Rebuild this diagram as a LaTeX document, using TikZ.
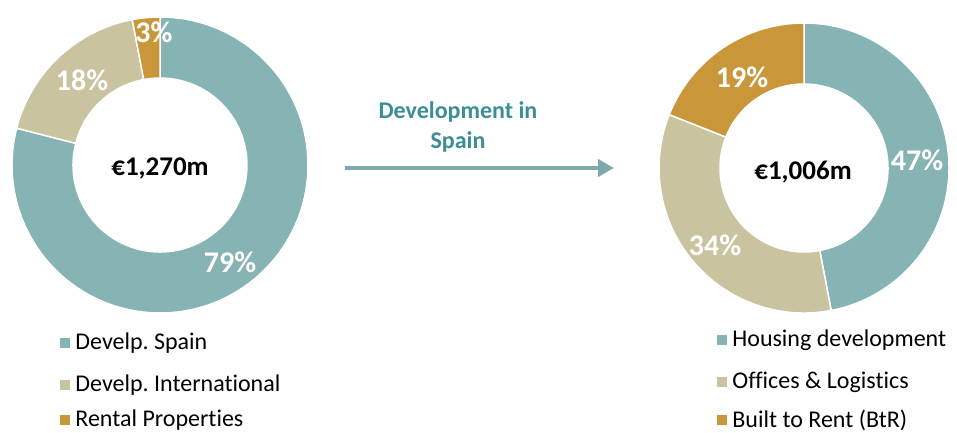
\documentclass[tikz,border=0pt]{standalone}
\usepackage{fontspec}
\setmainfont{Carlito}[Ligatures=NoCommon]
\frenchspacing
\usetikzlibrary{arrows.meta,positioning}
\definecolor{spain}{HTML}{86B3B3}
\definecolor{intl}{HTML}{C9C3A0}
\definecolor{rental}{HTML}{C9963A}
\definecolor{arrowtext}{HTML}{3B8E96}
\tikzset{
  pct/.style={text=white, font=\bfseries\fontsize{30}{30}\selectfont},
  total/.style={font=\bfseries\fontsize{27}{27}\selectfont},
  legbox/.style={minimum size=10pt, inner sep=0pt},
  legtext/.style={font=\fontsize{24}{24}\selectfont, inner sep=0pt, anchor=west},
  slice/.style={draw=white, line width=1.5pt}
}
\begin{document}
\begin{tikzpicture}[x=1pt,y=1pt]
  \useasboundingbox (0,0) rectangle (957,432);
  % left donut
  \coordinate (lc) at (160,267);
  \fill[spain,slice] (lc) ++(90:148) arc[start angle=90,end angle=-194.4,radius=148]
    -- ++(-194.4:-61) arc[start angle=-194.4,end angle=90,radius=87] -- cycle;
  \fill[intl,slice] (lc) ++(-194.4:148) arc[start angle=-194.4,end angle=-259.2,radius=148]
    -- ++(-259.2:-61) arc[start angle=-259.2,end angle=-194.4,radius=87] -- cycle;
  \fill[rental,slice] (lc) ++(-259.2:148) arc[start angle=-259.2,end angle=-270,radius=148]
    -- ++(-270:-61) arc[start angle=-270,end angle=-259.2,radius=87] -- cycle;
  \node[pct] (p79) at (230,170) {79\%};
  \node[pct] (p18) at (82,352) {18\%};
  \node[pct] (p3) at (154,400) {3\%};
  \node[total] (ltotal) at (160,264) {€1,270m};
  % right donut
  \coordinate (rc) at (804,264);
  \fill[spain,slice] (rc) ++(90:145) arc[start angle=90,end angle=-79.2,radius=145]
    -- ++(-79.2:-61) arc[start angle=-79.2,end angle=90,radius=84] -- cycle;
  \fill[intl,slice] (rc) ++(-79.2:145) arc[start angle=-79.2,end angle=-201.6,radius=145]
    -- ++(-201.6:-61) arc[start angle=-201.6,end angle=-79.2,radius=84] -- cycle;
  \fill[rental,slice] (rc) ++(-201.6:145) arc[start angle=-201.6,end angle=-270,radius=145]
    -- ++(-270:-61) arc[start angle=-270,end angle=-201.6,radius=84] -- cycle;
  \node[pct] (p47) at (917,272) {47\%};
  \node[pct] (p19) at (742,355) {19\%};
  \node[pct] (p34) at (715,187) {34\%};
  \node[total] (rtotal) at (803,260) {€1,006m};
  % arrow
  \coordinate (arrowstart) at (345,264);
  \coordinate (arrowend) at (614,264);
  \draw[spain!95!black, line width=4pt, -{Triangle[length=16pt,width=17pt]}] (arrowstart) -- (arrowend);
  \node[align=center, text=arrowtext, font=\bfseries\fontsize{24}{30}\selectfont] (dev) at (458,305) {Development in\\Spain};
  % legends
  \node[legbox, fill=spain] (lsq1) at (65,89) {};
  \node[legbox, fill=intl] (lsq2) at (65,47) {};
  \node[legbox, fill=rental] (lsq3) at (65,12) {};
  \node[legtext, right=5pt of lsq1] (ltx1) {Develp. Spain};
  \node[legtext, right=5pt of lsq2] (ltx2) {Develp. International};
  \node[legtext, right=5pt of lsq3] (ltx3) {Rental Properties};
  \node[legbox, fill=spain] (rsq1) at (722,92) {};
  \node[legbox, fill=intl] (rsq2) at (722,50) {};
  \node[legbox, fill=rental] (rsq3) at (722,12) {};
  \node[legtext, right=5pt of rsq1] (rtx1) {Housing development};
  \node[legtext, right=5pt of rsq2] (rtx2) {Offices \& Logistics};
  \node[legtext, right=5pt of rsq3] (rtx3) {Built to Rent (BtR)};
\end{tikzpicture}
\end{document}
